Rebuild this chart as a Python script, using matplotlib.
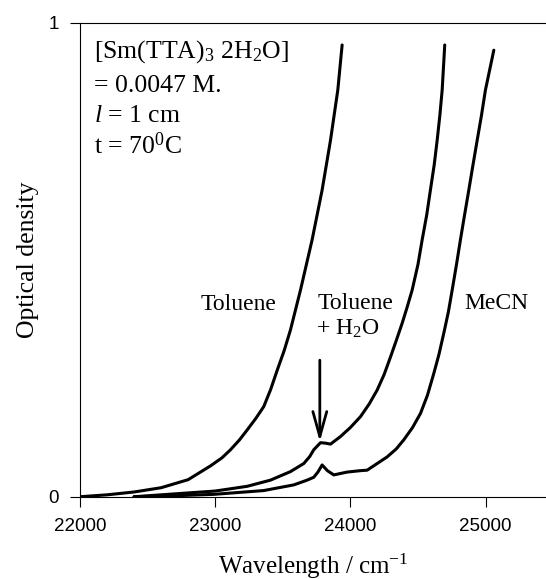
import matplotlib
matplotlib.use('Agg')
from matplotlib import pyplot as plt

plt.rcParams['mathtext.default'] = 'regular'
plt.rcParams['mathtext.fontset'] = 'custom'
plt.rcParams['mathtext.rm'] = 'Liberation Serif'
plt.rcParams['mathtext.it'] = 'Liberation Serif:italic'

SERIF = 'Liberation Serif'
SANS = 'Liberation Sans'

# Toluene
tol_x = [22000, 22200, 22400, 22600, 22800, 22965, 23050, 23113, 23180,
         23237, 23300, 23359, 23410, 23459, 23510, 23557, 23631, 23717,
         23791, 23853, 23907, 23939]
tol_y = [0.0, 0.004, 0.010, 0.019, 0.036, 0.065, 0.082, 0.099, 0.120,
         0.141, 0.165, 0.190, 0.226, 0.267, 0.308, 0.352, 0.436, 0.542,
         0.647, 0.752, 0.858, 0.953]

# Toluene + H2O
wet_x = [22400, 22600, 22800, 23000, 23237, 23409, 23557, 23655, 23700,
         23729, 23779, 23816, 23853, 23927, 24000, 24075, 24140, 24198,
         24250, 24297, 24340, 24383, 24420, 24457, 24500, 24531, 24565,
         24592, 24620, 24642, 24662, 24679, 24698]
wet_y = [0.0, 0.004, 0.008, 0.012, 0.022, 0.035, 0.053, 0.070, 0.085,
         0.099, 0.114, 0.113, 0.111, 0.127, 0.146, 0.169, 0.196, 0.225,
         0.258, 0.295, 0.330, 0.366, 0.400, 0.436, 0.490, 0.542, 0.595,
         0.647, 0.700, 0.752, 0.805, 0.858, 0.953]

# MeCN
mecn_x = [22400, 22700, 22990, 23359, 23582, 23680, 23729, 23760, 23791,
          23830, 23877, 23976, 24075, 24124, 24198, 24272, 24340, 24395,
          24460, 24519, 24570, 24617, 24655, 24691, 24725, 24753, 24785,
          24814, 24845, 24876, 24907, 24938, 24970, 24999, 25030, 25061]
mecn_y = [0.0, 0.002, 0.005, 0.013, 0.025, 0.035, 0.041, 0.052, 0.067,
          0.055, 0.046, 0.052, 0.055, 0.056, 0.070, 0.084, 0.101, 0.120,
          0.146, 0.176, 0.214, 0.260, 0.300, 0.345, 0.390, 0.436, 0.490,
          0.542, 0.595, 0.647, 0.700, 0.752, 0.805, 0.858, 0.900, 0.942]

x_ticks = [22000, 23000, 24000, 25000]
y_ticks = [0, 1]

fig = plt.figure(figsize=(5.46, 5.79), dpi=100)
ax = fig.add_axes([0.1465, 0.1421, 0.8535, 0.8187])

for xs, ys in [(tol_x, tol_y), (wet_x, wet_y), (mecn_x, mecn_y)]:
    ax.plot(xs, ys, color='black', linewidth=2.2, solid_capstyle='round',
            solid_joinstyle='round')

ax.set_xlim(22000, 25447)
ax.set_ylim(0, 1)
ax.set_xticks(x_ticks)
ax.set_yticks(y_ticks)
ax.set_xticklabels([str(t) for t in x_ticks], family=SANS, fontsize=13.5)
ax.set_yticklabels([str(t) for t in y_ticks], family=SANS, fontsize=13.5)
ax.tick_params(direction='out', length=7, width=0.8, pad=8)
ax.spines['right'].set_visible(False)
for s in ['left', 'bottom', 'top']:
    ax.spines[s].set_linewidth(0.8)

ax.set_xlabel('Wavelength / cm$^{-1}$', family=SERIF, fontsize=18)
ax.xaxis.label.set_va('baseline')
ax.xaxis.set_label_coords(0.5, -0.162)
ax.set_ylabel('Optical density', family=SERIF, fontsize=18.5)
ax.yaxis.set_label_coords(-0.088, 0.5)

# info block
info = ['[Sm(TTA)$_3$ 2H$_2$O]', '= 0.0047 M.', '$\\mathit{l}$ = 1 cm',
        't = 70$^0$C']
info_y = [0.926, 0.854, 0.790, 0.723]
for s, yy in zip(info, info_y):
    ax.text(22100, yy, s, family=SERIF, fontsize=18.5, va='baseline')

ax.text(22891, 0.394, 'Toluene', family=SERIF, fontsize=17, va='baseline')
ax.text(23759, 0.395, 'Toluene', family=SERIF, fontsize=17, va='baseline')
ax.text(23749, 0.341, '+ H$_2$O', family=SERIF, fontsize=17, va='baseline')
ax.text(24846, 0.395, 'MeCN', family=SERIF, fontsize=17, va='baseline')

ax.annotate('', xy=(23774, 0.116), xytext=(23774, 0.288),
            arrowprops=dict(arrowstyle='->, head_length=0.9, head_width=0.25',
                            color='black', lw=2.0, mutation_scale=20,
                            shrinkA=0, shrinkB=0))

fig.savefig('out.png', dpi=100)
